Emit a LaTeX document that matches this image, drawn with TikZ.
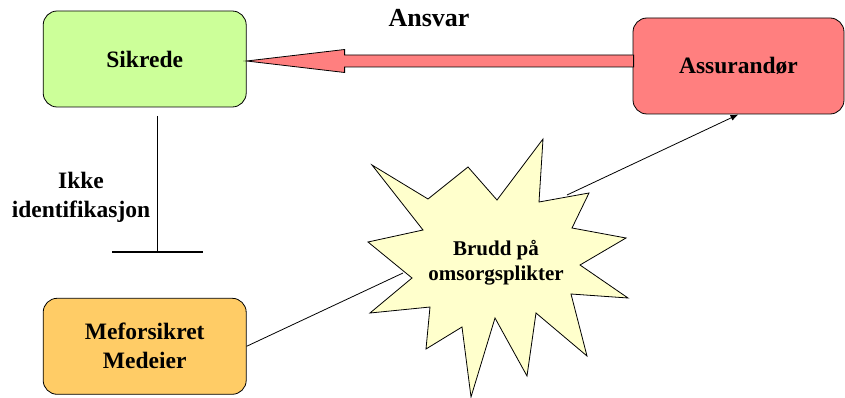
\documentclass[tikz,border=0pt]{standalone}
\usepackage{fontspec}
\setmainfont{Liberation Serif}
\usetikzlibrary{arrows.meta}

\definecolor{sikgreen}{HTML}{CCFF99}
\definecolor{assred}{HTML}{FF7F7F}
\definecolor{medorange}{HTML}{FFCC66}
\definecolor{staryellow}{HTML}{FFFFCC}

\begin{document}
\begin{tikzpicture}[>={Latex[length=8pt,width=6pt]}, x=1pt, y=-1pt, line width=0.8pt,
        party/.style={draw, rounded corners=14pt, minimum width=203pt,
            minimum height=96pt, align=center,
            font=\fontsize{23.5}{29}\selectfont\bfseries}]

        \useasboundingbox (0,0) rectangle (845,398);

        % The three parties.
        \node[party, fill=sikgreen] (sikrede) at (144.7, 59) {Sikrede};
        \node[party, fill=assred, minimum width=211pt] (assurandor) at (738.5, 66) {Assurandør};
        \node[party, fill=medorange] (medeier) at (144.7, 346.3) {Meforsikret\\Medeier};

        % Fat arrow for the liability, pointing back at Sikrede.
        \coordinate (tip) at ([yshift=-2pt]sikrede.east);
        \draw[fill=assred] (tip) -- ++(98,-11.5) -- ++(0,5.5) -- ++(289,0)
                -- ++(0,12) -- ++(-289,0) -- ++(0,5.5) -- cycle;
        \node[font=\fontsize{26}{30}\selectfont\bfseries] (ansvar) at (429, 18) {Ansvar};

        % No identification: a line ending in a bar.
        \coordinate (ikketop) at (157, 116);
        \coordinate (ikkebot) at (157, 252);
        \draw (ikketop) to (ikkebot);
        \draw[line width=2pt] ([xshift=-45pt]ikkebot) to ([xshift=46pt]ikkebot);
        \node[align=center, font=\fontsize{23.5}{29}\selectfont\bfseries]
            (ikke) at (81, 197) {Ikke\\identifikasjon};

        % Connectors through the breach.
        \coordinate (starleft)  at (403, 273);
        \coordinate (starright) at (567, 195);
        \draw (medeier.east) to (starleft);
        \draw[->] (starright) to (assurandor.south);

        % The breach as a star burst.
        \draw[fill=staryellow]
            (372,165) -- (428,199) -- (468,167) -- (497,200) -- (543,139)
            -- (539,202) -- (589,193) -- (572,228) -- (626,238) -- (580,265)
            -- (628,298) -- (571,294) -- (587,356) -- (536,313) -- (527,376)
            -- (495,318) -- (471,397) -- (462,327) -- (426,349) -- (430,307)
            -- (370,313) -- (412,278) -- (368,242) -- (423,230) -- cycle;
        \node[align=center, font=\fontsize{21}{25}\selectfont\bfseries]
            (brudd) at (496, 263) {Brudd på\\omsorgsplikter};

    \end{tikzpicture}
\end{document}
